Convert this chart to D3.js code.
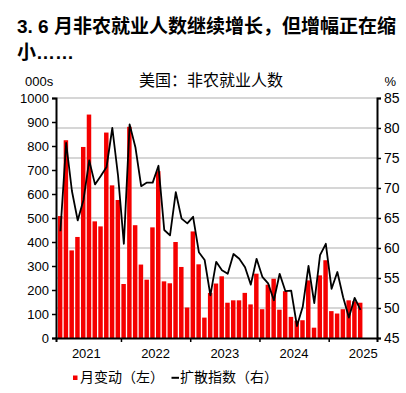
<!DOCTYPE html>
<html>
<head>
<meta charset="utf-8">
<script src="https://cdn.jsdelivr.net/npm/d3@7"></script>
<style>
  body { margin: 0; background: #fff; }
  text { font-family: "Liberation Sans", "Noto Sans CJK SC", sans-serif; }
</style>
</head>
<body>
<div id="chart"></div>
<script>
// monthly data, Feb 2021 .. Jun 2025
const yearLabels = ["2021", "2022", "2023", "2024", "2025"];
const payrolls = [
  508, 824, 365, 421, 796, 931, 486, 465, 856, 636, 575,
  225, 880, 470, 306, 243, 461, 695, 236, 228, 400, 296, 127,
  444, 307, 85, 188, 227, 257, 147, 157, 157, 188, 140, 268,
  120, 222, 247, 118, 195, 88, 72, 74, 240, 43, 261, 324,
  112, 102, 120, 157, 153, 147
];
const diffusion = [
  62.8, 77.5, 69.5, 64.6, 68, 74.6, 70.6, 72, 73.5, 80, 72,
  60.7, 80.6, 76.8, 70.3, 70.9, 70.9, 73.7, 63, 62.1, 69.3, 64.9, 64.1,
  65.2, 59.3, 58, 52.1, 57.7, 56.3, 55.7, 59, 58.2, 56.8, 53.9, 58.2,
  55.2, 54.1, 51.3, 55.7, 52.8, 52.9, 47, 50.2, 57, 50.8, 58.8, 60.7,
  53.2, 56, 51.8, 48.4, 51.7, 49.7
];
const firstMonth = 1; // months counted from Jan 2021

const width = 406, height = 393;
const plot = { left: 56, right: 377, top: 98, bottom: 338 };

const svg = d3.select("#chart")
    .append("svg")
    .attr("width", width)
    .attr("height", height);

// x in month index (Jan 2021 = 0)
const x = d3.scaleLinear().domain([0.74, 56.37]).range([plot.left, plot.right]);
const yL = d3.scaleLinear().domain([0, 1000]).range([plot.bottom, plot.top]);
const yR = d3.scaleLinear().domain([45, 85]).range([plot.bottom, plot.top]);

// gridlines follow the right axis
svg.append("g")
    .selectAll("line")
    .data(d3.range(50, 86, 5))
    .enter()
    .append("line")
    .attr("x1", plot.left)
    .attr("x2", plot.right)
    .attr("y1", d => yR(d))
    .attr("y2", d => yR(d))
    .attr("stroke", "#c8c8c8")
    .attr("stroke-width", 1.5);

// bars
svg.append("g")
    .selectAll("rect")
    .data(payrolls)
    .enter()
    .append("rect")
    .attr("x", (d, i) => x(i + firstMonth) + 0.4)
    .attr("width", (d, i) => x(i + firstMonth + 1) - x(i + firstMonth) - 1.3)
    .attr("y", d => yL(d))
    .attr("height", d => yL(0) - yL(d))
    .attr("fill", "#f50000");

// diffusion index line
const line = d3.line()
    .x((d, i) => x(i + firstMonth + 0.5))
    .y(d => yR(d));

svg.append("path")
    .datum(diffusion)
    .attr("d", line)
    .attr("fill", "none")
    .attr("stroke", "#000")
    .attr("stroke-width", 1.8)
    .attr("stroke-linejoin", "round");

// axes
const leftAxis = svg.append("g")
    .attr("transform", `translate(${plot.left},0)`)
    .call(d3.axisLeft(yL).tickValues(d3.range(0, 1001, 100)).tickSize(4).tickPadding(3).tickFormat(d3.format("d")));

const rightAxis = svg.append("g")
    .attr("transform", `translate(${plot.right},0)`)
    .call(d3.axisRight(yR).tickValues(d3.range(45, 86, 5)).tickSize(4).tickPadding(3));

const bottomAxis = svg.append("g")
    .attr("transform", `translate(0,${plot.bottom})`)
    .call(d3.axisBottom(x).tickValues([12, 24, 36, 48]).tickSize(4).tickFormat(""));

[leftAxis, rightAxis, bottomAxis].forEach(g => {
    g.select(".domain").attr("stroke", "#000").attr("stroke-width", 2);
    g.selectAll(".tick line").attr("stroke", "#000").attr("stroke-width", 1.5);
    g.selectAll("text").attr("fill", "#000").style("font-size", "13px")
        .style("font-family", '"Liberation Sans", sans-serif');
});
rightAxis.selectAll("text").style("font-size", "14px");

// year labels centred on each year
svg.append("g")
    .selectAll("text")
    .data(yearLabels)
    .enter()
    .append("text")
    .attr("x", (d, i) => x(i * 12 + 6))
    .attr("y", 358)
    .attr("text-anchor", "middle")
    .style("font-size", "13px")
    .text(d => d);

// titles
const title = svg.append("text")
    .attr("x", 17)
    .style("font-size", "19px")
    .style("font-weight", "bold");
title.append("tspan").attr("x", 17).attr("y", 33).text("3. 6 月非农就业人数继续增长，但增幅正在缩");
title.append("tspan").attr("x", 17).attr("y", 59).text("小……");

svg.append("text")
    .attr("x", 211)
    .attr("y", 85.5)
    .attr("text-anchor", "middle")
    .style("font-size", "16px")
    .text("美国：非农就业人数");

svg.append("text")
    .attr("x", 25)
    .attr("y", 86)
    .style("font-size", "13px")
    .text("000s");

svg.append("text")
    .attr("x", 396)
    .attr("y", 86)
    .attr("text-anchor", "end")
    .style("font-size", "13px")
    .text("%");

// legend
svg.append("rect")
    .attr("x", 73)
    .attr("y", 375.5)
    .attr("width", 4.5)
    .attr("height", 4.5)
    .attr("fill", "#f50000");
svg.append("text")
    .attr("x", 80)
    .attr("y", 382)
    .style("font-size", "14px")
    .text("月变动（左）");

svg.append("line")
    .attr("x1", 171.5)
    .attr("x2", 179)
    .attr("y1", 377.8)
    .attr("y2", 377.8)
    .attr("stroke", "#000")
    .attr("stroke-width", 2);
svg.append("text")
    .attr("x", 180)
    .attr("y", 382)
    .style("font-size", "14px")
    .text("扩散指数（右）");
</script>
</body>
</html>
